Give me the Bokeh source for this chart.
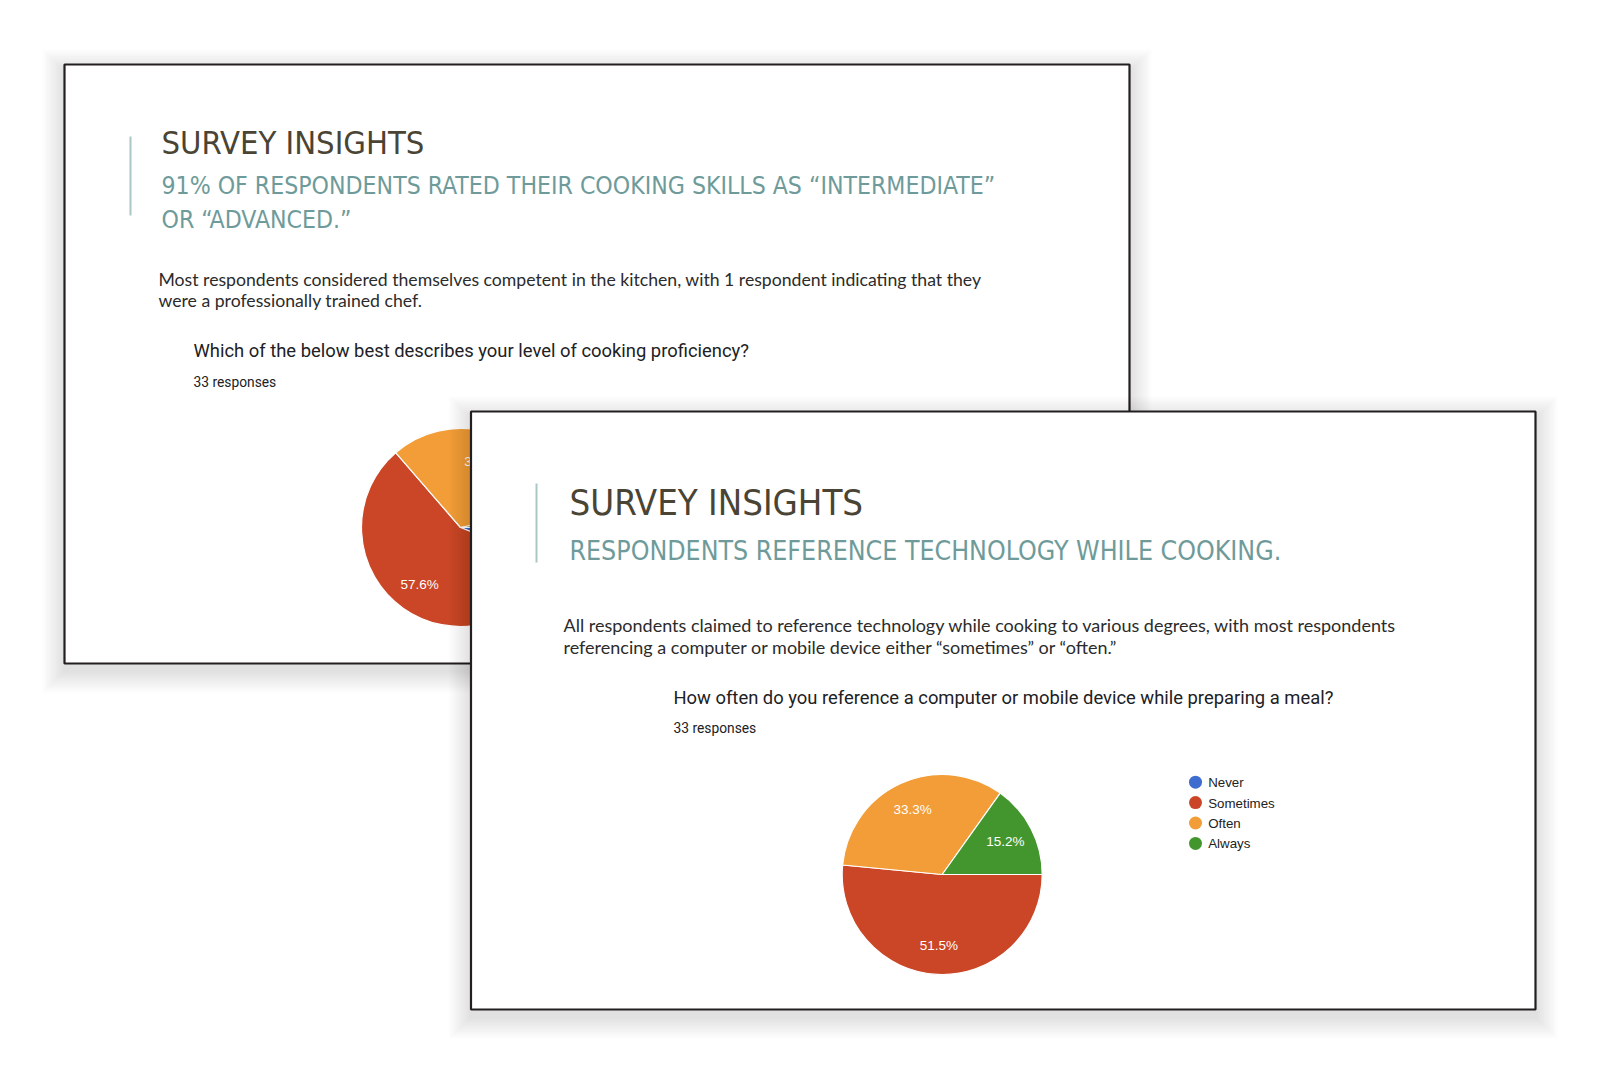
from bokeh.plotting import figure
from bokeh.models import Range1d
from bokeh.embed import file_html
from bokeh.resources import INLINE
from bokeh.core.properties import value
import numpy as np

# ---------------- data ----------------
q1_categories = ["Beginner", "Intermediate", "Advanced", "Professionally trained"]
q1_counts = [2, 19, 11, 1]
q2_categories = ["Never", "Sometimes", "Often", "Always"]
q2_counts = [0, 17, 11, 5]
slice_colors = ["#3e6ccf", "#cb4626", "#f29d37", "#43962e"]

title_text = "SURVEY INSIGHTS"
s1_subtitle = ["91% OF RESPONDENTS RATED THEIR COOKING SKILLS AS \u201cINTERMEDIATE\u201d",
               "OR \u201cADVANCED.\u201d"]
s1_body = ["Most respondents considered themselves competent in the kitchen, with 1 respondent indicating that they",
           "were a professionally trained chef."]
s1_question = "Which of the below best describes your level of cooking proficiency?"
s2_subtitle = ["RESPONDENTS REFERENCE TECHNOLOGY WHILE COOKING."]
s2_body = ["All respondents claimed to reference technology while cooking to various degrees, with most respondents",
           "referencing a computer or mobile device either \u201csometimes\u201d or \u201coften.\u201d"]
s2_question = "How often do you reference a computer or mobile device while preparing a meal?"
responses_text = "33 responses"

# ---------------- styles ----------------
NARROW = value("DejaVu Sans Condensed, Roboto Condensed, Roboto, sans-serif")
BODY = value("Lato")
GFONT = value("Roboto")
ARIAL = value("Liberation Sans")
TITLE_C = "#4a4434"
SUB_C = "#6e9b9a"
BAR_C = "#aac6c6"
BODY_C = "#2b2b2b"
Q_C = "#202124"
FRAME_C = "#231f20"

W, H = 1600, 1072
p = figure(width=W, height=H, x_range=Range1d(0, W), y_range=Range1d(H, 0),
           output_backend="svg", toolbar_location=None, x_axis_type=None, y_axis_type=None,
           min_border=0)
p.grid.visible = False
p.outline_line_color = None
p.background_fill_color = "white"
p.border_fill_color = "white"


def shadow(l, t, r, b):
    for k in range(1, 11):
        e = k * 2.2
        p.quad(left=[l - e], right=[r + e], top=[t - e + 7], bottom=[b + e + 7],
               fill_color="black", fill_alpha=0.012, line_color=None)


def slide(l, t, r, b):
    shadow(l, t, r, b)
    p.quad(left=[l], right=[r], top=[t], bottom=[b], fill_color="white",
           line_color=FRAME_C, line_width=2.2)


def txt(x, y, s, font, size, color, align="left", baseline="middle"):
    p.text(x=[x], y=[y], text=[s], text_font=font, text_font_size=f"{size}px",
           text_color=color, text_align=align, text_baseline=baseline)


def pie(cx, cy, r, counts, min_label=0.05):
    counts = np.asarray(counts, dtype=float)
    frac = counts / counts.sum()
    cum_end = np.cumsum(frac)
    cum_start = cum_end - frac
    # clockwise from 3 o'clock
    start = -cum_end * 2 * np.pi
    end = -cum_start * 2 * np.pi
    keep = frac > 0
    p.wedge(x=[cx] * int(keep.sum()), y=[cy] * int(keep.sum()), radius=r,
            start_angle=list(start[keep]), end_angle=list(end[keep]),
            fill_color=[c for c, k in zip(slice_colors, keep) if k],
            line_color="white", line_width=1.2)
    mid = (start + end) / 2
    for f, a in zip(frac, mid):
        if f >= min_label:
            txt(cx + 0.71 * r * np.cos(a), cy - 0.71 * r * np.sin(a), f"{100 * f:.1f}%",
                ARIAL, 13.5, "white", align="center")


# ---------------- slide 1 ----------------
slide(64, 64, 1129, 663)
p.segment(x0=[130], y0=[136], x1=[130], y1=[215], line_color=BAR_C, line_width=2)
txt(161, 142.5, title_text, NARROW, 32.5, TITLE_C)
for i, s in enumerate(s1_subtitle):
    txt(161, 184.5 + i * 34.5, s, NARROW, 24.6, SUB_C)
for i, s in enumerate(s1_body):
    txt(158, 278.5 + i * 21.5, s, BODY, 17.65, BODY_C)
txt(193, 349.5, s1_question, GFONT, 18.4, Q_C)
txt(193, 381.7, responses_text, GFONT, 13.8, Q_C)
pie(460, 527, 99, q1_counts)

# ---------------- slide 2 ----------------
slide(470.5, 411, 1535, 1009)
p.segment(x0=[536], y0=[483], x1=[536], y1=[562], line_color=BAR_C, line_width=2)
txt(569, 501.5, title_text, NARROW, 36.3, TITLE_C)
for i, s in enumerate(s2_subtitle):
    txt(569, 550, s, NARROW, 26.5, SUB_C)
for i, s in enumerate(s2_body):
    txt(563, 624.5 + i * 21.5, s, BODY, 18, BODY_C)
txt(673, 697, s2_question, GFONT, 18.4, Q_C)
txt(673, 727, responses_text, GFONT, 13.8, Q_C)
pie(941.7, 874, 100, q2_counts)

# legend
leg_y = [781.7 + 20.4 * i for i in range(len(q2_categories))]
p.scatter(x=[1195] * len(q2_categories), y=leg_y, size=13, marker="circle",
          fill_color=slice_colors, line_color=None)
for yy, c in zip(leg_y, q2_categories):
    txt(1207.7, yy + 0.5, c, ARIAL, 13.3, "#222222")

open("out.html", "w").write(file_html(p, INLINE))
